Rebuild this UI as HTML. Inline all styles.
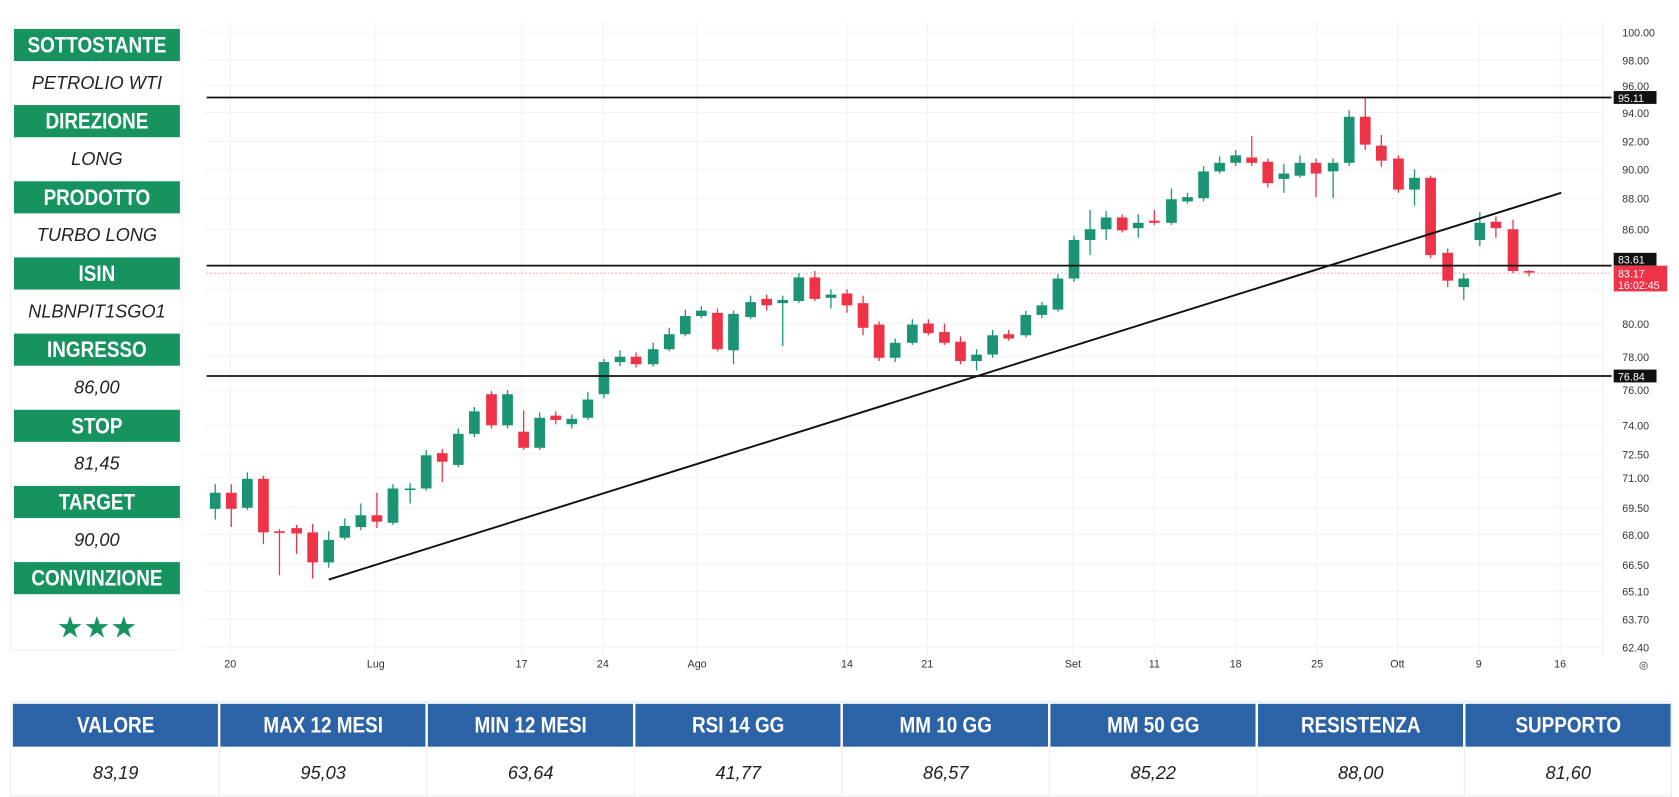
<!DOCTYPE html>
<html><head><meta charset="utf-8"><style>
html,body{margin:0;padding:0;background:#fff;}
svg{display:block}
.h{font-family:"Liberation Sans",sans-serif;font-weight:bold;fill:#fff;font-size:21px}
.v{font-family:"Liberation Sans",sans-serif;font-style:italic;fill:#222;font-size:17px}
.ax{font-family:"Liberation Sans",sans-serif;fill:#333;font-size:10px}
</style></head><body>
<svg id="s" width="1679" height="797" viewBox="0 0 1568 744" preserveAspectRatio="none" xmlns="http://www.w3.org/2000/svg">
<rect width="1568" height="744" fill="#fff"/>
<g id="grid"></g>
<g id="cand"></g>
<g id="panel"></g>
</svg>
<script>
const NS="http://www.w3.org/2000/svg";
function el(p,t,a,txt){const e=document.createElementNS(NS,t);for(const k in a)e.setAttribute(k,a[k]);if(txt!==undefined)e.textContent=txt;p.appendChild(e);return e;}
function squeeze(t,f){const w=t.getComputedTextLength();if(w>0){t.setAttribute('textLength',w*f);t.setAttribute('lengthAdjust','spacingAndGlyphs');}}
const g=document.getElementById('grid'),c=document.getElementById('cand'),p=document.getElementById('panel');
const yl=[[30,"100.00"],[56,"98.00"],[80,"96.00"],[105,"94.00"],[132,"92.00"],[158,"90.00"],[185,"88.00"],[214,"86.00"],[270,"82.00"],[302,"80.00"],[333,"78.00"],[364,"76.00"],[397,"74.00"],[424,"72.50"],[446,"71.00"],[474,"69.50"],[499,"68.00"],[527,"66.50"],[552,"65.10"],[578,"63.70"],[604,"62.40"]];
yl.forEach(([y,t])=>{el(g,'line',{x1:190,x2:1497,y1:y,y2:y,stroke:'#f1f2f5','stroke-width':1});if(t!="82.00")el(g,'text',{x:1515,y:y+4,class:'ax'},t);});
const xl=[[215,"20"],[351,"Lug"],[487,"17"],[563,"24"],[651,"Ago"],[791,"14"],[866,"21"],[1002,"Set"],[1078,"11"],[1154,"18"],[1230,"25"],[1305,"Ott"],[1381,"9"],[1457,"16"]];
xl.forEach(([x,t])=>{el(g,'line',{x1:x,x2:x,y1:20,y2:612,stroke:'#f1f2f5','stroke-width':1});el(g,'text',{x:x,y:623,class:'ax','text-anchor':'middle'},t);});
el(g,'line',{x1:1497,x2:1497,y1:20,y2:612,stroke:'#eceef2'});
el(g,'text',{x:1535,y:624,class:'ax','text-anchor':'middle'},"◎");
const d=[[201,475,460,452,485],[216,460,475,452,492],[231,474,447,441,476],[246,447,497,444,508],[261,496,497,494,537],[277,493,498,490,517],[292,497,525,489,540],[307,525,504,496,530],[322,502,491,484,504],[337,492,481,470,495],[352,481,487,460,493],[367,488,456,452,490],[383,457,456,451,470],[398,456,425,420,458],[413,423,431,419,450],[428,434,405,400,436],[443,405,384,380,408],[459,368,397,365,400],[474,397,368,364,400],[489,403,418,383,420],[504,418,390,385,420],[519,388,392,384,396],[534,396,391,387,400],[549,390,373,366,392],[564,368,338,335,372],[579,338,333,327,342],[594,333,340,329,343],[610,340,326,320,342],[625,326,312,306,328],[640,312,295,289,314],[655,295,290,286,297],[670,292,326,288,328],[685,327,293,290,340],[701,296,282,276,298],[716,279,285,275,290],[731,283,280,276,323],[746,281,259,255,283],[761,259,279,253,281],[776,278,275,270,288],[791,274,285,270,292],[806,283,306,276,313],[821,303,334,300,337],[836,334,320,316,338],[852,320,303,298,322],[867,302,311,298,313],[882,310,320,302,322],[897,319,337,314,340],[912,337,331,326,346],[927,331,313,308,334],[942,312,316,308,318],[958,313,294,290,315],[973,294,285,282,297],[988,289,260,256,291],[1003,260,224,220,263],[1018,224,214,196,238],[1033,214,203,197,224],[1048,203,215,200,217],[1063,213,208,200,222],[1078,206,208,196,210],[1094,208,186,176,210],[1109,188,184,180,190],[1124,185,160,155,188],[1139,160,152,146,162],[1154,152,145,140,155],[1169,147,152,127,155],[1184,151,171,148,175],[1199,167,162,153,180],[1214,164,152,145,166],[1229,152,162,148,184],[1245,160,152,148,185],[1260,152,109,103,155],[1275,109,135,91,140],[1290,136,150,126,156],[1306,148,177,145,180],[1321,177,166,158,192],[1336,166,238,164,241],[1352,236,262,232,268],[1367,268,260,255,280],[1382,224,208,198,230],[1397,207,213,202,222],[1413,214,253,205,255],[1428,253,254,252,258]];
d.forEach(([x,o,cl,h,l])=>{const up=cl<o;const col=up?'#1a9474':'#ee3346';el(c,'line',{x1:x,x2:x,y1:h,y2:l,stroke:col,'stroke-width':1.2});const t=Math.min(o,cl),b=Math.max(o,cl);el(c,'rect',{x:x-5,y:t,width:10,height:Math.max(b-t,1.5),fill:col});});
el(c,'line',{x1:193,x2:1505,y1:91,y2:91,stroke:'#111','stroke-width':1.6});
el(c,'line',{x1:193,x2:1505,y1:248,y2:248,stroke:'#111','stroke-width':1.6});
el(c,'line',{x1:193,x2:1505,y1:351,y2:351,stroke:'#111','stroke-width':1.6});
el(c,'line',{x1:193,x2:1505,y1:255,y2:255,stroke:'#ee3346','stroke-width':0.8,'stroke-dasharray':'1.5 2',opacity:0.6});
el(c,'line',{x1:307,x2:1458,y1:541,y2:180,stroke:'#111','stroke-width':1.8});
[[91,"95.11"],[242,"83.61"],[351,"76.84"]].forEach(([y,t])=>{el(c,'rect',{x:1507,y:y-6,width:40,height:12,fill:'#111'});el(c,'text',{x:1511,y:y+4,class:'ax',style:'fill:#fff'},t);});
el(c,'rect',{x:1507,y:248,width:50,height:24,fill:'#ee3346'});
el(c,'text',{x:1511,y:259,class:'ax',style:'fill:#fff'},"83.17");
el(c,'text',{x:1511,y:270,class:'ax',style:'fill:#fff'},"16:02:45");
el(p,'rect',{x:10,y:24,width:160,height:583,fill:'#fff',stroke:'#eef0ee'});
const L=[["SOTTOSTANTE","PETROLIO WTI"],["DIREZIONE","LONG"],["PRODOTTO","TURBO LONG"],["ISIN","NLBNPIT1SGO1"],["INGRESSO","86,00"],["STOP","81,45"],["TARGET","90,00"],["CONVINZIONE",""]];
L.forEach(([h,v],i)=>{const y=27+i*71.1;el(p,'rect',{x:13,y:y,width:155,height:30,fill:'#16935f'});const t=el(p,'text',{x:90.5,y:y+22,class:'h','text-anchor':'middle'},h);squeeze(t,0.84);if(v)el(p,'text',{x:90.5,y:y+56,class:'v','text-anchor':'middle'},v);});
el(p,'text',{x:90.5,y:595,'text-anchor':'middle',style:'fill:#16935f;font-size:28px;font-family:"DejaVu Sans",sans-serif'},"★★★");
const T=[["VALORE","83,19"],["MAX 12 MESI","95,03"],["MIN 12 MESI","63,64"],["RSI 14 GG","41,77"],["MM 10 GG","86,57"],["MM 50 GG","85,22"],["RESISTENZA","88,00"],["SUPPORTO","81,60"]];
el(p,'rect',{x:10,y:655,width:1551,height:88,fill:'#fff',stroke:'#e8ecf2'});
T.forEach(([h,v],i)=>{const x=12+i*193.8;el(p,'rect',{x:x,y:657,width:191.5,height:40,fill:'#2c62a6'});const t=el(p,'text',{x:x+96,y:684,class:'h','text-anchor':'middle'},h);squeeze(t,0.84);el(p,'text',{x:x+96,y:727,class:'v','text-anchor':'middle'},v);if(i>0)el(p,'line',{x1:x-1,x2:x-1,y1:697,y2:742,stroke:'#eeeeee'});});
</script>
</body></html>
